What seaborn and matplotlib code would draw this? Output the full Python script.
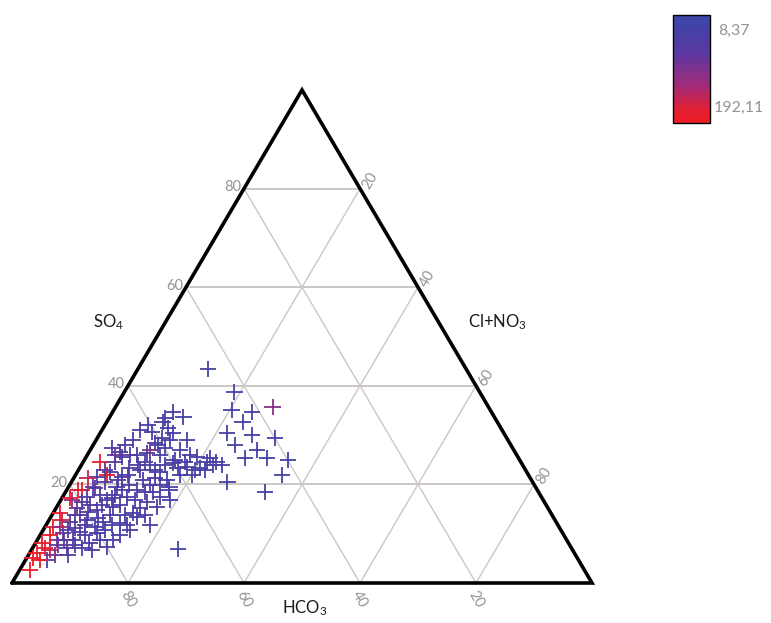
import numpy as np
import pandas as pd
import matplotlib
matplotlib.use("Agg")
import matplotlib.pyplot as plt
from matplotlib.colors import LinearSegmentedColormap, Normalize
from matplotlib.cm import ScalarMappable
import seaborn as sns

# ---------------- data (ternary percentages) ----------------
so4 = [43.4, 38.7, 35.7, 35.1, 34.7, 32.7, 30.4, 30.0, 28.0, 29.4, 27.0, 25.4, 25.4, 24.9, 21.9, 20.5, 18.5, 6.9,
       34.7, 33.7, 32.7, 31.4, 30.6, 30.4, 29.0, 28.4, 27.4, 27.4, 27.0, 26.4, 25.6, 26.0, 25.6, 24.5, 24.5, 24.5,
       23.9, 24.3, 23.5, 23.3, 23.9, 23.3, 22.5, 22.5, 21.9, 21.9, 21.5, 21.5, 20.9, 20.9, 18.9, 19.5, 19.5, 18.9,
       18.5, 19.5, 17.2, 17.4, 16.8, 17.4, 16.4, 15.4, 14.2, 15.2, 14.8, 15.4, 14.2, 11.4, 12.4, 12.8, 12.4, 12.2,
       13.4, 11.8, 10.1, 10.3, 10.1, 8.7, 8.1, 8.7, 8.7, 8.1, 7.3, 6.1, 6.7, 7.1, 7.1, 5.1, 4.7, 5.7, 2.6,
       17.8, 15.8, 15.8, 13.8, 13.8, 11.8, 11.4, 11.2, 22.9, 21.3, 19.9, 18.5, 24.5, 26.0, 24.9, 26.0, 29.4, 24.5,
       28.0, 22.9, 22.9, 23.9, 11.4, 8.7, 8.7, 9.7, 4.7, 7.1, 16.8, 17.8, 16.8, 17.4, 10.8, 9.7, 19.9, 20.5, 26.0,
       33.5, 27.0, 16.8,
       13.8, 14.4, 15.8, 17.2, 18.9, 19.3, 20.9, 21.9, 23.9, 22.9, 23.9, 23.3, 11.8, 13.2, 11.8, 13.8, 15.2,
       7.7, 7.7, 6.7, 5.7, 10.8, 16.4, 22.9, 26.6, 29.0, 32.0, 28.0, 29.0, 24.5, 21.9, 18.9, 19.9, 13.8, 10.8,
       12.8, 18.9, 21.3, 9.7, 26.0, 25.4, 31.0]
cl_no3 = [12.1, 19.0, 27.1, 20.3, 24.0, 23.4, 21.9, 26.4, 24.4, 30.6, 28.7, 27.5, 31.3, 35.1, 35.6, 26.9, 34.4, 25.2,
          10.4, 12.7, 9.6, 11.2, 8.8, 12.6, 15.7, 10.5, 3.5, 12.7, 15.5, 10.1, 6.2, 8.6, 19.1, 21.3, 23.0, 2.9,
          11.8, 15.6, 18.4, 20.7, 22.7, 8.6, 5.6, 14.2, 5.4, 18.0, 3.9, 8.3, 12.1, 16.2, 2.6, 4.2, 8.3, 12.1,
          15.1, 17.4, 1.4, 4.2, 8.0, 11.1, 15.1, 17.3, 1.2, 3.6, 7.3, 9.7, 13.8, 1.4, 3.8, 6.5, 9.5, 12.5,
          14.9, 17.9, 3.7, 6.5, 9.6, 13.0, 1.2, 3.4, 6.1, 9.3, 12.7, 1.2, 3.2, 5.9, 8.6, 1.0, 3.6, 6.8, 1.8,
          6.3, 10.7, 5.5, 10.0, 4.8, 13.9, 8.6, 5.3, 10.6, 14.0, 10.3, 13.7, 5.5, 12.5, 15.6, 17.7, 11.2, 10.6,
          5.5, 20.1, 21.8, 24.2, 2.6, 4.7, 10.8, 7.7, 2.4, 2.1, 1.9, 8.9, 12.8, 16.8, 10.6, 13.7, 13.8, 5.8, 7.3,
          9.7, 10.3, 18.8,
          4.0, 5.9, 7.6, 8.6, 9.5, 4.7, 7.8, 9.0, 9.7, 13.2, 14.4, 16.9, 6.7, 8.2, 11.3, 12.6, 14.5,
          4.0, 7.0, 10.4, 4.5, 4.3, 3.9, 4.5, 5.3, 6.4, 7.4, 11.2, 12.7, 17.5, 20.0, 17.7, 15.5, 16.0, 14.9,
          2.2, 1.9, 2.4, 1.7, 4.8, 21.4, 6.6]
conc = [30, 35, 110, 35, 30, 30, 30, 30, 30, 35, 30, 30, 30, 30, 30, 30, 30, 30,
        35, 35, 40, 35, 40, 35, 40, 40, 45, 40, 40, 45, 50, 45, 35, 35, 35, 185,
        45, 40, 40, 35, 35, 50, 60, 40, 185, 40, 60, 55, 45, 40, 188, 60, 50, 45,
        45, 40, 190, 70, 50, 45, 45, 45, 188, 80, 50, 45, 45, 188, 60, 45, 45, 45,
        45, 40, 70, 50, 45, 40, 190, 90, 50, 45, 40, 192, 160, 60, 45, 190, 60, 50, 186,
        50, 45, 60, 40, 70, 45, 40, 55, 45, 45, 50, 45, 55, 40, 40, 35, 40, 50,
        45, 40, 35, 35, 120, 70, 40, 45, 185, 175, 120, 50, 45, 40, 40, 40, 45, 60, 50,
        40, 100, 40,
        60, 50, 45, 45, 40, 70, 50, 45, 40, 40, 35, 35, 50, 45, 40, 40, 40,
        80, 50, 40, 90, 60, 60, 55, 50, 45, 40, 40, 40, 35, 35, 40, 40, 40, 40,
        160, 170, 150, 185, 80, 35, 45]

grid_vals = [20, 40, 60, 80]
conc_min, conc_max = 8.37, 192.11
cbar_labels = ["8,37", "192,11"]

df = pd.DataFrame({"SO4": so4, "Cl": cl_no3, "conc": conc})
df["HCO3"] = 100 - df["SO4"] - df["Cl"]
df["x"] = (df["Cl"] + df["SO4"] / 2) / 100
df["y"] = df["SO4"] / 100

# ---------------- figure ----------------
W, H = 771, 623
sns.set_theme(style="white")
plt.rcParams["font.family"] = ["Lato", "DejaVu Sans"]
plt.rcParams["mathtext.default"] = "regular"

fig = plt.figure(figsize=(W / 100, H / 100), dpi=100)
fig.patch.set_facecolor("white")
ax = fig.add_axes([12 / W, 40 / H, 580 / W, 493 / H])
ax.set_xlim(0, 1)
ax.set_ylim(0, 1)
ax.axis("off")

gcol = "#cdc6c6"
tcol = "#9a9292"
for p in grid_vals:
    f = p / 100
    ax.plot([f / 2, 1 - f / 2], [f, f], color=gcol, lw=1.4, zorder=1)
    ax.plot([f, f + (1 - f) / 2], [0, 1 - f], color=gcol, lw=1.0, zorder=1)
    ax.plot([1 - f, (1 - f) / 2], [0, 1 - f], color=gcol, lw=1.0, zorder=1)

ax.plot([0, 1, 0.5, 0], [0, 0, 1, 0], color="black", lw=2.6, zorder=2,
        solid_joinstyle="miter", clip_on=False)

cmap = LinearSegmentedColormap.from_list(
    "bpr", [(0.0, "#3a47a8"), (0.35, "#5a38a2"), (0.65, "#a02b7a"), (0.88, "#e21f32"), (1.0, "#ee1c25")])
norm = Normalize(conc_min, conc_max)

sns.scatterplot(data=df, x="x", y="y", hue="conc", palette=cmap, hue_norm=norm,
                marker="+", s=140, linewidth=1.3, legend=False, ax=ax, zorder=3, clip_on=False)
ax.set_xlim(0, 1)
ax.set_ylim(0, 1)
ax.axis("off")

# tick labels
for p in grid_vals:
    f = p / 100
    ax.annotate(str(p), (f / 2, f), xytext=(-2, 1), textcoords="offset points",
                ha="right", va="center", color=tcol, fontsize=10.5)
    fr = (100 - p) / 100
    ax.annotate(str(p), (p / 100 + fr / 2, fr), xytext=(7, 6), textcoords="offset points",
                ha="center", va="center", color=tcol, fontsize=10.5, rotation=60)
    ax.annotate(str(p), (1 - f, 0), xytext=(0, -12), textcoords="offset points",
                ha="center", va="center", color=tcol, fontsize=10.5, rotation=-60)

fig.text(108 / W, 1 - 322 / H, "SO$_4$", ha="center", va="center", fontsize=12, color="#1a1a1a")
fig.text(497 / W, 1 - 322 / H, "Cl+NO$_3$", ha="center", va="center", fontsize=12, color="#1a1a1a")
fig.text(305 / W, 1 - 608 / H, "HCO$_3$", ha="center", va="center", fontsize=12, color="#1a1a1a")

# colorbar
cax = fig.add_axes([673 / W, 1 - 123 / H, 37 / W, 108 / H])
sm = ScalarMappable(norm=norm, cmap=cmap)
cb = fig.colorbar(sm, cax=cax)
cb.ax.invert_yaxis()
cb.set_ticks([])
cb.outline.set_linewidth(1.0)
cb.outline.set_edgecolor("black")
fig.text(718 / W, 1 - 31 / H, cbar_labels[0], ha="left", va="center", fontsize=11.5, color=tcol)
fig.text(714 / W, 1 - 108 / H, cbar_labels[1], ha="left", va="center", fontsize=11.5, color=tcol)

fig.savefig("out.png", dpi=100, facecolor="white")
